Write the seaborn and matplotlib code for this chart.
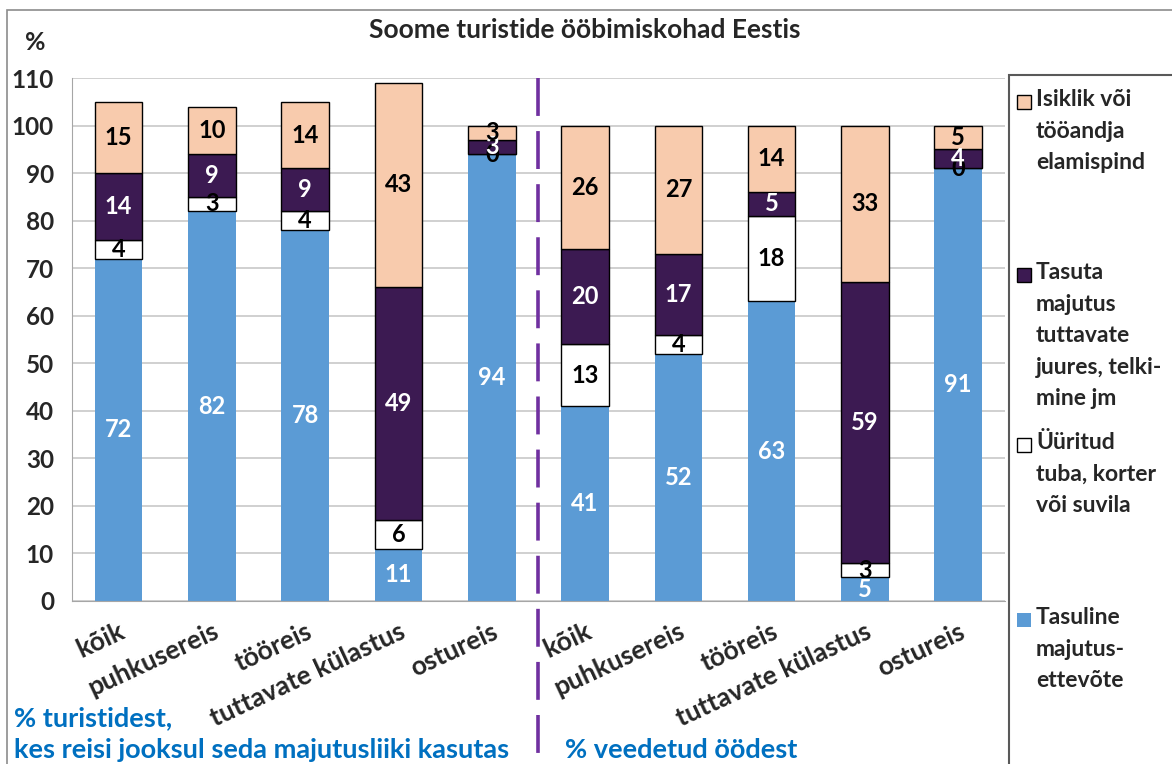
import numpy as np
import pandas as pd
import matplotlib
matplotlib.use("Agg")
import matplotlib.pyplot as plt
import seaborn as sns
from matplotlib.patches import Rectangle

# data: left group = % of tourists, right group = % of nights
categories = ["kõik", "puhkusereis", "tööreis", "tuttavate külastus", "ostureis"]
x_labels = categories + categories
tasuline = [72, 82, 78, 11, 94, 41, 52, 63, 5, 91]
yyritud = [4, 3, 4, 6, 0, 13, 4, 18, 3, 0]
tasuta = [14, 9, 9, 49, 3, 20, 17, 5, 59, 4]
isiklik = [15, 10, 14, 43, 3, 26, 27, 14, 33, 5]

legend_labels = [
    "Isiklik või\ntööandja\nelamispind",
    "Tasuta\nmajutus\ntuttavate\njuures, telki-\nmine jm",
    "Üüritud\ntuba, korter\nvõi suvila",
    "Tasuline\nmajutus-\nettevõte",
]

sns.set_style("white")
plt.rcParams["font.family"] = ["Lato", "DejaVu Sans"]
plt.rcParams["font.weight"] = "bold"

df = pd.DataFrame({
    "key": [f"b{i}" for i in range(10)],
    "tasuline": tasuline,
    "yyritud": yyritud,
    "tasuta": tasuta,
    "isiklik": isiklik,
})

blue = "#5B9BD5"
purple = "#3C1A52"
peach = "#F8CBAD"

fig = plt.figure(figsize=(11.72, 7.64), dpi=100)
ax = fig.add_axes([0.0614, 0.2134, 0.796, 0.6845])

# stacked bars, one seaborn call per series
series = [
    ("tasuline", blue, "none", 0, "white"),
    ("yyritud", "white", "black", 1.0, "black"),
    ("tasuta", purple, "black", 1.0, "white"),
    ("isiklik", peach, "black", 1.0, "black"),
]
bottom = np.zeros(10)
for col, fc, ec, lw, tc in series:
    sns.barplot(data=df, x="key", y=col, color=fc, saturation=1, width=0.51,
                errorbar=None, edgecolor=ec, linewidth=lw, bottom=bottom, ax=ax)
    ax.bar_label(ax.containers[-1], labels=[str(v) for v in df[col]],
                 label_type="center", color=tc, fontsize=17, fontweight="bold")
    bottom = bottom + df[col].values

ax.set_xlim(-0.5, 9.5)
ax.set_ylim(0, 110)
ax.set_yticks(range(0, 111, 10))
ax.set_xlabel("")
ax.set_ylabel("")
ax.yaxis.grid(True, color="#c8c8c8", lw=1.2)
ax.set_axisbelow(True)
for s in ["top", "right"]:
    ax.spines[s].set_visible(False)
for s in ["left", "bottom"]:
    ax.spines[s].set_color("#a6a6a6")
ax.tick_params(axis="y", length=7, color="#a6a6a6", pad=6, labelsize=17.5)
ax.set_xticks(range(10))
ax.set_xticklabels(x_labels, rotation=25, ha="right", rotation_mode="anchor",
                   fontsize=19, fontweight="bold")
ax.tick_params(axis="x", which="major", length=0, pad=13)
ax.set_xticks(np.arange(-0.5, 10, 1), minor=True)
ax.tick_params(axis="x", which="minor", length=6, color="#a6a6a6")
for t in ax.get_yticklabels():
    t.set_fontweight("bold")

# dashed divider between the two groups
ax.plot([4.5, 4.5], [1.0, -0.4], transform=ax.get_xaxis_transform(),
        clip_on=False, color="#7030A0", lw=2.6, ls=(0, (10.5, 4.2)))

W, H = 1172, 764

def fx(px):
    return px / W

def fy(py):
    return 1 - py / H

# outer chart border and legend frame
fig.add_artist(Rectangle((fx(7), -0.05), 1.2, fy(10) + 0.05, transform=fig.transFigure,
                         fill=False, ec="#8c8c8c", lw=1.2))
fig.add_artist(Rectangle((fx(1009), -0.05), 0.5, fy(75) + 0.05, transform=fig.transFigure,
                         fill=False, ec="#595959", lw=1.5))

# legend entries
leg_y = [102, 275, 445, 620]
leg_fc = [peach, purple, "white", blue]
leg_ec = ["black", "black", "black", "none"]
for lab, y, fc, ec in zip(legend_labels, leg_y, leg_fc, leg_ec):
    fig.add_artist(Rectangle((fx(1017), fy(y + 7)), 14 / W, 14 / H, transform=fig.transFigure,
                             fc=fc, ec=ec, lw=1.0))
    fig.text(fx(1036), fy(y - 13), lab, ha="left", va="top", fontsize=16.5,
             fontweight="bold", linespacing=1.62)

fig.text(fx(585), fy(30), "Soome turistide ööbimiskohad Eestis", ha="center", va="center",
         fontsize=19, fontweight="bold")
fig.text(fx(35), fy(42), "%", ha="center", va="center", fontsize=18, fontweight="bold")

note_color = "#0070C0"
fig.text(fx(14), fy(718), "% turistidest,", color=note_color, fontsize=19.5,
         fontweight="bold", va="center")
fig.text(fx(14), fy(750), "kes reisi jooksul seda majutusliiki kasutas", color=note_color,
         fontsize=19.5, fontweight="bold", va="center")
fig.text(fx(565), fy(750), "% veedetud öödest", color=note_color, fontsize=19.5,
         fontweight="bold", va="center")

fig.savefig("out.png", dpi=100)
